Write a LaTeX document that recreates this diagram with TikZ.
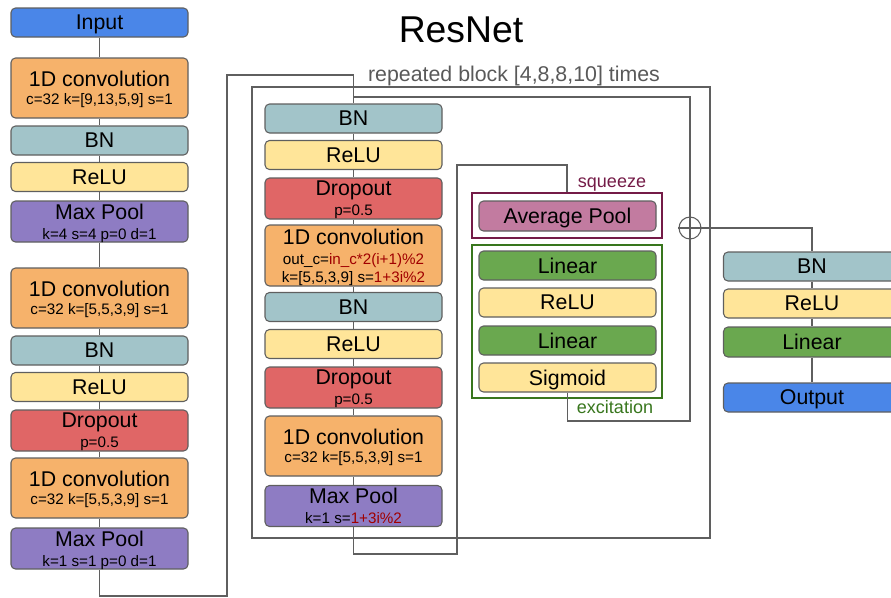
\documentclass[tikz,border=0pt]{standalone}
\usepackage{fontspec}
\setmainfont{Liberation Sans}
\usetikzlibrary{positioning}

\definecolor{lineg}{HTML}{5F5F5F}
\definecolor{cBlue}{HTML}{4A86E8}
\definecolor{cConv}{HTML}{F6B26B}
\definecolor{cBN}{HTML}{A2C4C9}
\definecolor{cRelu}{HTML}{FFE599}
\definecolor{cPool}{HTML}{8E7CC3}
\definecolor{cDrop}{HTML}{E06666}
\definecolor{cLin}{HTML}{6AA84F}
\definecolor{cAvg}{HTML}{C27BA0}
\definecolor{cSq}{HTML}{741B47}
\definecolor{cEx}{HTML}{38761D}
\definecolor{redtxt}{HTML}{A00000}
\definecolor{greytxt}{HTML}{595959}

\newcommand\pxu{0.75pt}
\newcommand\mainf{\fontsize{16}{17}\selectfont}
\newcommand\subf{\fontsize{11.4}{17}\selectfont}

\begin{document}
\begin{tikzpicture}[x=0.75pt,y=-0.75pt,
  layer/.style={draw=lineg, line width=0.8pt, rounded corners=4.5*\pxu,
    minimum width=177*\pxu, minimum height=29*\pxu, inner sep=0pt,
    align=center, font=\mainf, text=black, text depth=0pt},
  tall/.style={minimum height=41*\pxu},
  taller/.style={minimum height=60*\pxu},
  inbox/.style={layer, fill=cBlue},
  convbox/.style={layer, taller, fill=cConv},
  bnbox/.style={layer, fill=cBN},
  relubox/.style={layer, fill=cRelu},
  poolbox/.style={layer, tall, fill=cPool},
  dropbox/.style={layer, tall, fill=cDrop},
  linbox/.style={layer, fill=cLin},
  avgbox/.style={layer, fill=cAvg, minimum height=30*\pxu},
  conn/.style={draw=lineg, line width=0.8pt},
  frame/.style={draw, line width=0.8pt, minimum width=190*\pxu, inner sep=0pt},
]
\useasboundingbox (0,0) rectangle (891,597);
\clip (0,0) rectangle (891,597);

% title and block caption
\node[anchor=base, font=\fontsize{28}{30}\selectfont] (title) at (461,42) {ResNet};
\node[anchor=base, font=\fontsize{16}{17}\selectfont, text=greytxt] (rep) at (514,81) {repeated block [4,8,8,10] times};

% repeated block frame
\draw[conn] (252,87) rectangle (710,538);

% ---------------- stem column ----------------
\node[inbox] (l_in) at (99.5,22.5) {Input};
\node[convbox] (l_c1) at (99.5,88) {1D convolution\\[-3.8pt]\subf c=32 k=[9,13,5,9] s=1};
\node[bnbox] (l_bn1) at (99.5,140.5) {BN};
\node[relubox] (l_re1) at (99.5,177) {ReLU};
\node[poolbox] (l_mp1) at (99.5,221.5) {Max Pool\\[-2.2pt]\subf k=4 s=4 p=0 d=1};
\node[convbox] (l_c2) at (99.5,298) {1D convolution\\[-3.8pt]\subf c=32 k=[5,5,3,9] s=1};
\node[bnbox] (l_bn2) at (99.5,350.5) {BN};
\node[relubox] (l_re2) at (99.5,387) {ReLU};
\node[dropbox] (l_do) at (99.5,430.5) {Dropout\\[-2.2pt]\subf p=0.5};
\node[convbox] (l_c3) at (99.5,488) {1D convolution\\[-3.8pt]\subf c=32 k=[5,5,3,9] s=1};
\node[poolbox] (l_mp2) at (99.5,548.5) {Max Pool\\[-2.2pt]\subf k=1 s=1 p=0 d=1};

\foreach \a/\b in {l_in/l_c1, l_c1/l_bn1, l_bn1/l_re1, l_re1/l_mp1, l_mp1/l_c2,
                   l_c2/l_bn2, l_bn2/l_re2, l_re2/l_do, l_do/l_c3, l_c3/l_mp2}
  \draw[conn] (\a.south) -- (\b.north);

% ---------------- residual block column ----------------
\node[bnbox] (b_bn1) at (353.5,118.5) {BN};
\node[relubox] (b_re1) at (353.5,155) {ReLU};
\node[dropbox] (b_do1) at (353.5,198.5) {Dropout\\[-2.2pt]\subf p=0.5};
\node[convbox, minimum height=61*\pxu] (b_c1) at (353.5,255.5)
  {1D convolution\\[-2.3pt]\subf out\_c=\textcolor{redtxt}{in\_c*2(i+1)\%2}\\[-3.5pt]\subf k=[5,5,3,9] s=\textcolor{redtxt}{1+3i\%2}};
\node[bnbox] (b_bn2) at (353.5,307) {BN};
\node[relubox] (b_re2) at (353.5,344) {ReLU};
\node[dropbox] (b_do2) at (353.5,387.5) {Dropout\\[-2.2pt]\subf p=0.5};
\node[convbox] (b_c2) at (353.5,446) {1D convolution\\[-3.8pt]\subf c=32 k=[5,5,3,9] s=1};
\node[poolbox] (b_mp) at (353.5,506) {Max Pool\\[-2.2pt]\subf k=1 s=\textcolor{redtxt}{1+3i\%2}};

\foreach \a/\b in {b_bn1/b_re1, b_re1/b_do1, b_do1/b_c1, b_c1/b_bn2, b_bn2/b_re2,
                   b_re2/b_do2, b_do2/b_c2, b_c2/b_mp}
  \draw[conn] (\a.south) -- (\b.north);

% ---------------- squeeze and excitation ----------------
\node[frame, draw=cSq, minimum height=45*\pxu] (sq) at (567,215.5) {};
\node[avgbox] (e_avg) at (567.5,216) {Average Pool};
\node[anchor=base, font=\fontsize{13.5}{15}\selectfont, text=cSq] (sqlab) at (612,187) {squeeze};

\node[frame, draw=cEx, minimum height=153*\pxu] (ex) at (567,321.5) {};
\node[linbox] (e_lin1) at (567.5,265.5) {Linear};
\node[relubox] (e_re) at (567.5,302.5) {ReLU};
\node[linbox] (e_lin2) at (567.5,340.5) {Linear};
\node[relubox] (e_sig) at (567.5,377.5) {Sigmoid};
\node[anchor=base, font=\fontsize{13.5}{15}\selectfont, text=cEx] (exlab) at (615,413) {excitation};

% ---------------- merge point ----------------
\node[circle, draw=lineg, line width=0.8pt, fill=white, minimum size=22*\pxu, inner sep=0pt] (plus) at (690,228) {};
\draw[conn] (plus.north) -- (plus.south) (plus.west) -- (plus.east);

% ---------------- head column ----------------
\node[bnbox] (r_bn) at (812,266.5) {BN};
\node[relubox] (r_re) at (812,303.5) {ReLU};
\node[linbox, minimum height=30*\pxu] (r_lin) at (812,342) {Linear};
\node[inbox] (r_out) at (812,397.5) {Output};
\foreach \a/\b in {r_bn/r_re, r_re/r_lin, r_lin/r_out}
  \draw[conn] (\a.south) -- (\b.north);

% ---------------- routing ----------------
\coordinate (p1) at (99.5,596);
\coordinate (p2) at (227,596);
\coordinate (p3) at (227,75);
\draw[conn] (l_mp2.south) -- (p1) -- (p2) -- (p3) -| (b_bn1.north);

\coordinate (s0) at (353.5,97);
\draw[conn] (s0) -| (plus.north);

\coordinate (q1) at (353.5,554);
\coordinate (q2) at (457,554);
\coordinate (q3) at (457,165);
\draw[conn] (b_mp.south) -- (q1) -- (q2) -- (q3) -| (sq.north);

\coordinate (t1) at (690,421);
\draw[conn] (e_sig.south) |- (t1) -- (plus.south);

\draw[conn] (plus.east) -| (r_bn.north);
\end{tikzpicture}
\end{document}
